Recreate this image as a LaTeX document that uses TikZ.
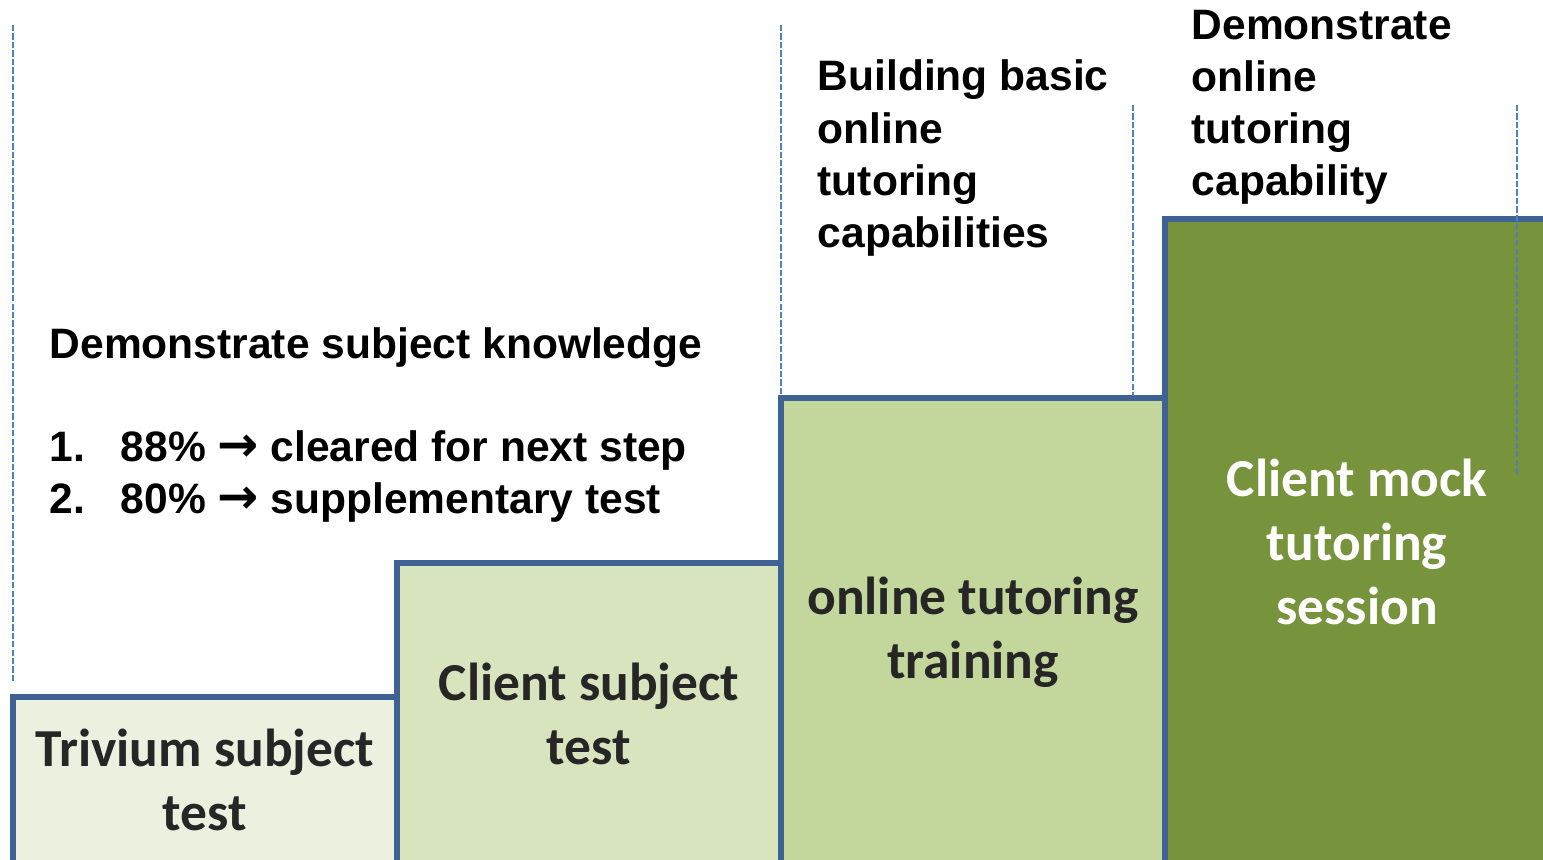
\documentclass[tikz,border=0pt]{standalone}
\usepackage{fontspec}
\setmainfont{Liberation Sans}
\newfontfamily\calibri{Carlito}
\newfontfamily\arrowfont{DejaVu Sans}

\definecolor{edgeblue}{HTML}{3D6293}
\definecolor{guideblue}{HTML}{4F81BD}
\definecolor{stepone}{HTML}{EBF0DF}
\definecolor{steptwo}{HTML}{D7E4BD}
\definecolor{stepthree}{HTML}{C3D69B}
\definecolor{stepfour}{HTML}{77933C}
\definecolor{boxtext}{HTML}{262626}

\tikzset{
  stepbox/.style={draw=edgeblue, line width=1.6pt, line join=miter},
  guide/.style={guideblue, line width=0.65pt, dash pattern=on 1.8pt off 0.6pt},
  note/.style={font=\bfseries\fontsize{12.1}{14.8}\selectfont, inner sep=0pt, align=left},
  steplabel/.style={font=\calibri\bfseries\fontsize{15.2}{18.3}\selectfont, text=boxtext, inner sep=0pt, align=center}
}
\newcommand{\bigarrow}{{\arrowfont\bfseries\fontsize{14}{14.8}\selectfont →}}

\begin{document}
\begin{tikzpicture}[x=0.01cm, y=-0.01cm]
    \useasboundingbox (0,0) rectangle (1543,859);
    \clip (0,0) rectangle (1543,859);

    % the four steps
    \foreach \x/\top/\col in {13/697/stepone, 397/563/steptwo, 781/398/stepthree, 1165/219/stepfour} {
        \draw[stepbox, fill=\col] (\x,\top) rectangle (\x+384,900);
      }

    % dashed guide lines
    \draw[guide] (13,25) -- (13,683);
    \draw[guide] (781,25) -- (781,396);
    \draw[guide] (1133,105) -- (1133,396);
    \draw[guide] (1517,105) -- (1517,476);

    \node[steplabel] (trivium) at (205,780) {Trivium subject\\test};
    \node[steplabel] (client) at (589,714) {Client subject\\test};
    \node[steplabel] (training) at (973,632) {online tutoring\\training};
    \node[steplabel, text=white] (mock) at (1357,542) {Client mock\\tutoring\\session};

    \node[note, anchor=west] (knowledge) at (49,348) {Demonstrate subject knowledge};
    \node[note, anchor=west] (itemone) at (49,450) {\makebox[0.71cm][l]{1.}88\% \bigarrow\ cleared for next step};
    \node[note, anchor=west] (itemtwo) at (49,502) {\makebox[0.71cm][l]{2.}80\% \bigarrow\ supplementary test};
    \node[note, anchor=west] (building) at (817,158) {Building basic\\online\\tutoring\\capabilities};
    \node[note, anchor=west] (capability) at (1191,107) {Demonstrate\\online\\tutoring\\capability}; % top text over last step
    \end{tikzpicture}
\end{document}
